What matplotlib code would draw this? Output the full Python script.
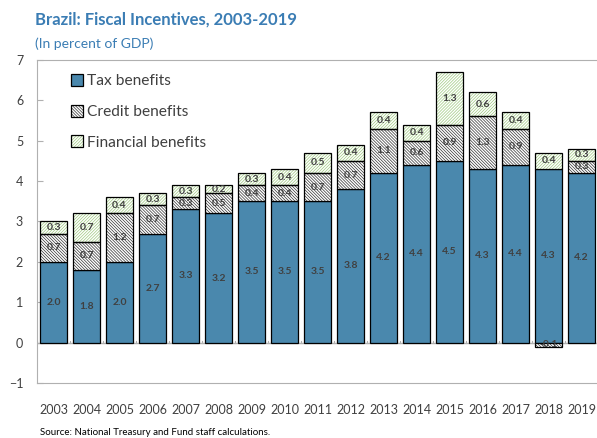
import numpy as np
import matplotlib.pyplot as plt
from matplotlib.patches import Patch

plt.rcParams['font.family'] = ['Lato', 'DejaVu Sans']
plt.rcParams['hatch.linewidth'] = 0.5

years = [str(y) for y in range(2003, 2020)]
tax = [2.0, 1.8, 2.0, 2.7, 3.3, 3.2, 3.5, 3.5, 3.5, 3.8, 4.2, 4.4, 4.5, 4.3, 4.4, 4.3, 4.2]
credit = [0.7, 0.7, 1.2, 0.7, 0.3, 0.5, 0.4, 0.4, 0.7, 0.7, 1.1, 0.6, 0.9, 1.3, 0.9, -0.1, 0.3]
financial = [0.3, 0.7, 0.4, 0.3, 0.3, 0.2, 0.3, 0.4, 0.5, 0.4, 0.4, 0.4, 1.3, 0.6, 0.4, 0.4, 0.3]

blue = '#4a88ad'
title_blue = '#3b7db4'
label_col = '#404040'
credit_hatch = '\\' * 11
fin_hatch = '/' * 11

fig = plt.figure(figsize=(5.97, 4.38), dpi=100)
ax = fig.add_axes([0.062, 0.1256, 0.94, 0.7375])

x = np.arange(len(years))
tax = np.array(tax)
credit = np.array(credit)
financial = np.array(financial)
w = 0.8

# credit sits on top of tax, unless it is negative
credit_base = np.where(credit >= 0, tax, 0)
fin_base = tax + np.clip(credit, 0, None)

ax.bar(x, tax, w, color=blue, edgecolor='black', linewidth=0.9, zorder=2)
ax.bar(x, credit, w, bottom=credit_base, color='white', edgecolor='#333333',
       hatch=credit_hatch, linewidth=0, zorder=2)
ax.bar(x, financial, w, bottom=fin_base, color='white', edgecolor='#9fca80',
       hatch=fin_hatch, linewidth=0, zorder=2)
# black outlines drawn over the hatching
ax.bar(x, credit, w, bottom=credit_base, color='none', edgecolor='black', linewidth=0.9, zorder=3)
ax.bar(x, financial, w, bottom=fin_base, color='none', edgecolor='black', linewidth=0.9, zorder=3)

kw = dict(ha='center', va='center', fontsize=7.5, fontweight='bold', color=label_col, zorder=4)
for i in range(len(x)):
    ax.text(x[i], tax[i] / 2, f'{tax[i]:.1f}', **kw)
    ax.text(x[i], credit_base[i] + credit[i] / 2, f'{credit[i]:.1f}', **kw)
    ax.text(x[i], fin_base[i] + financial[i] / 2, f'{financial[i]:.1f}', **kw)

ax.axhline(0, color='#b0b0b0', linewidth=1, zorder=1)
for i in range(len(x) + 1):
    ax.plot([i - 0.5, i - 0.5], [0, 0.05], color='#b0b0b0', linewidth=0.8, zorder=1)

ax.set_xlim(-0.5, 16.5)
ax.set_ylim(-1, 7)
ax.set_yticks(range(-1, 8))
ax.set_xticks(x)
ax.set_xticklabels(years)
ax.tick_params(axis='x', length=0, pad=15, labelsize=9, labelcolor=label_col)
ax.tick_params(axis='y', direction='in', length=4, color='#b0b0b0', pad=10,
               labelsize=9, labelcolor=label_col)
for s in ['left', 'top', 'bottom']:
    ax.spines[s].set_color('#b0b0b0')
ax.spines['right'].set_visible(False)

# legend keys: hatch patch with a black outline laid over it
outline = dict(facecolor='none', edgecolor='black', linewidth=0.9)
h_tax = Patch(facecolor=blue, edgecolor='black', linewidth=0.9)
h_credit = (Patch(facecolor='white', edgecolor='#333333', hatch=credit_hatch, linewidth=0),
            Patch(**outline))
h_fin = (Patch(facecolor='white', edgecolor='#9fca80', hatch=fin_hatch, linewidth=0),
         Patch(**outline))
ax.legend([h_tax, h_credit, h_fin], ['Tax benefits', 'Credit benefits', 'Financial benefits'],
          loc='upper left', bbox_to_anchor=(0.035, 1.0), frameon=False, fontsize=11.2,
          labelspacing=1.05, handlelength=0.8, handleheight=0.8, handletextpad=0.25,
          labelcolor=label_col)

fig.text(0.059, 0.955, 'Brazil: Fiscal Incentives, 2003-2019', fontsize=12,
         fontweight='bold', color=title_blue, ha='left', va='center')
fig.text(0.059, 0.9, '(In percent of GDP)', fontsize=10, color=title_blue,
         ha='left', va='center')
fig.text(0.067, 0.012, 'Source: National Treasury and Fund staff calculations.',
         fontsize=7, color='black', ha='left', va='center')

fig.savefig('out.png', dpi=100)
